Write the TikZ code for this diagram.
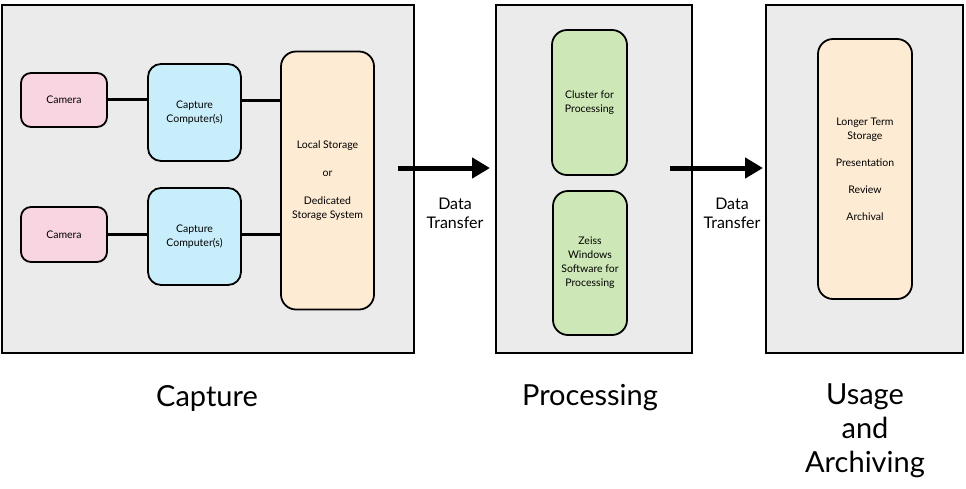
\documentclass[tikz,border=0pt]{standalone}
\usepackage{fontspec}
\setmainfont{Lato}
\usetikzlibrary{arrows.meta}
\definecolor{panelbg}{HTML}{EBEBEB}
\definecolor{campink}{HTML}{F9D5E1}
\definecolor{ccblue}{HTML}{C9EEFB}
\definecolor{stpeach}{HTML}{FDEBD4}
\definecolor{procgreen}{HTML}{CDE8B6}
\tikzset{
  panel/.style={draw=black, line width=2pt, fill=panelbg},
  box/.style={draw=black, line width=1.8pt, rounded corners=#1, align=center, font=\fontsize{10.5}{14}\selectfont, inner sep=0pt},
  box/.default=12pt,
  conn/.style={line width=3pt},
  flow/.style={line width=5pt, -{Triangle[length=18pt,width=20pt]}},
  small/.style={align=center, font=\fontsize{16}{19}\selectfont},
  big/.style={align=center, font=\fontsize{29}{34}\selectfont},
}
\begin{document}
\begin{tikzpicture}[x=1pt,y=-1pt]
\useasboundingbox (0,0) rectangle (966,488);
% panels
\path[panel] (2,5) rectangle (414,353);
\path[panel] (496,5) rectangle (692,353);
\path[panel] (766,5) rectangle (963,353);
% capture
\node[box=10pt, fill=campink, minimum width=86pt, minimum height=54pt] (cam1) at (64,100) {\raisebox{-1.5pt}{Camera}};
\node[box=10pt, fill=campink, minimum width=86pt, minimum height=55pt] (cam2) at (64,234.5) {\raisebox{-1.5pt}{Camera}};
\node[box=13pt, fill=ccblue, minimum width=93pt, minimum height=97pt] (cc1) at (194.5,112.5) {Capture\\Computer(s)};
\node[box=13pt, fill=ccblue, minimum width=93pt, minimum height=97pt] (cc2) at (194.5,236.5) {Capture\\Computer(s)};
\node[box=15pt, fill=stpeach, minimum width=93pt, minimum height=258pt] (st) at (327.5,180.5) {Local Storage\\[14pt]or\\[14pt]Dedicated\\Storage System};
\draw[conn] (cam1.east |- 0,99) -- (cc1.west |- 0,99);
\draw[conn] (cc1.east |- 0,100) -- (st.west |- 0,100);
\draw[conn] (cam2.east |- 0,234) -- (cc2.west |- 0,234);
\draw[conn] (cc2.east |- 0,234) -- (st.west |- 0,234);
% processing
\node[box=15pt, fill=procgreen, minimum width=75pt, minimum height=145pt] (cl) at (589.5,102.5) {Cluster for\\Processing};
\node[box=15pt, fill=procgreen, minimum width=74pt, minimum height=144pt] (zs) at (590,263) {Zeiss\\Windows\\Software for\\Processing};
% usage
\node[box=15pt, fill=stpeach, minimum width=94pt, minimum height=260pt] (us) at (865,169) {Longer Term\\Storage\\[13pt]Presentation\\[13pt]Review\\[13pt]Archival};
% arrows
\coordinate (a1s) at (398,168);
\coordinate (a1e) at (490,168);
\coordinate (a2s) at (670,168);
\coordinate (a2e) at (763,168);
\draw[flow] (a1s) -- (a1e);
\draw[flow] (a2s) -- (a2e);
\node[small] (dt1) at (455,213) {Data\\Transfer};
\node[small] (dt2) at (732,213) {Data\\Transfer};
% labels
\node[big] (lcap) at (207,398) {Capture};
\node[big] (lproc) at (590,398) {Processing};
\node[big] (luse) at (865,431) {Usage\\and\\Archiving};
\end{tikzpicture}
\end{document}
